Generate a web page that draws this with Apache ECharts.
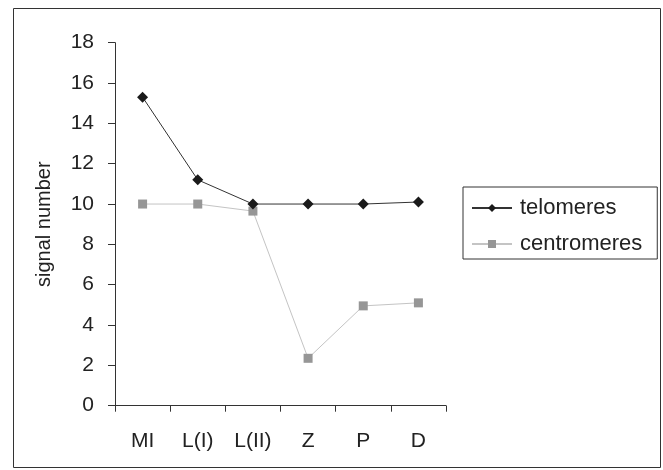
<!DOCTYPE html>
<html>
<head>
<meta charset="utf-8">
<script src="https://cdn.jsdelivr.net/npm/echarts@6/dist/echarts.min.js"></script>
<style>
html,body{margin:0;padding:0;background:#fff;}
#c{width:663px;height:470px;}
</style>
</head>
<body>
<div id="c"></div>
<script>
var categories = ['MI', 'L(I)', 'L(II)', 'Z', 'P', 'D'];
var telomeres = [15.3, 11.2, 10.0, 10.0, 10.0, 10.1];
var centromeres = [10.0, 10.0, 9.65, 2.35, 4.95, 5.1];
var yTicks = {min: 0, max: 18, interval: 2};

var FONT = 'Liberation Sans, Arial, sans-serif';
var chart = echarts.init(document.getElementById('c'), null, {renderer: 'canvas'});
chart.setOption({
  animation: false,
  backgroundColor: '#fff',
  graphic: [{
    type: 'rect',
    shape: {x: 13.5, y: 8.5, width: 647, height: 459},
    style: {fill: 'none', stroke: '#333', lineWidth: 1},
    silent: true, z: -1
  }],
  grid: {left: 115, right: 217, top: 42.7, bottom: 64.3, containLabel: false},
  legend: {
    orient: 'vertical',
    left: 463, top: 187,
    padding: [10, 15, 4, 8],
    itemGap: 14,
    itemWidth: 40, itemHeight: 10,
    borderColor: '#333', borderWidth: 1,
    textStyle: {fontFamily: FONT, fontSize: 22, color: '#222', padding: [0, 0, 0, 3]},
    data: ['telomeres', 'centromeres']
  },
  xAxis: {
    type: 'category',
    data: categories,
    boundaryGap: true,
    axisLine: {lineStyle: {color: '#333', width: 1}},
    axisTick: {show: true, length: 6, inside: false, lineStyle: {color: '#333'}},
    axisLabel: {fontFamily: FONT, fontSize: 21, color: '#222', margin: 25}
  },
  yAxis: {
    type: 'value',
    min: yTicks.min, max: yTicks.max, interval: yTicks.interval,
    name: 'signal number',
    nameLocation: 'middle',
    nameGap: 61,
    nameTextStyle: {fontFamily: FONT, fontSize: 20, color: '#222'},
    axisLine: {show: true, lineStyle: {color: '#333', width: 1}},
    axisTick: {show: true, length: 7, inside: false, lineStyle: {color: '#333'}},
    axisLabel: {fontFamily: FONT, fontSize: 21, color: '#222', margin: 21},
    splitLine: {show: false}
  },
  series: [{
    name: 'telomeres',
    type: 'line',
    data: telomeres,
    symbol: 'diamond',
    symbolSize: 11,
    itemStyle: {color: '#1a1a1a'},
    lineStyle: {color: '#333', width: 1},
    z: 3
  }, {
    name: 'centromeres',
    type: 'line',
    data: centromeres,
    symbol: 'rect',
    symbolSize: 9,
    itemStyle: {color: '#969696'},
    lineStyle: {color: '#c4c4c4', width: 1},
    z: 2
  }]
});
</script>
</body>
</html>
